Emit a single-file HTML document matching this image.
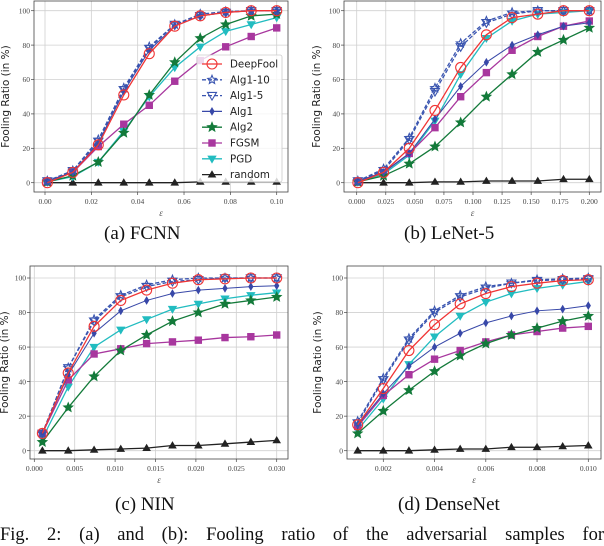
<!DOCTYPE html>
<html><head><meta charset="utf-8"><style>
body{margin:0;background:#fff;width:604px;height:544px;overflow:hidden;position:relative}
svg{position:absolute;left:0;top:0}
.cap{position:absolute;font-family:"Liberation Serif",serif;font-size:19px;color:#111;white-space:nowrap}
</style></head><body>
<svg id="fig" width="604" height="544"></svg>
<div class="cap" style="left:104px;top:223px">(a) FCNN</div>
<div class="cap" style="left:404px;top:223px">(b) LeNet-5</div>
<div class="cap" style="left:115px;top:494px">(c) NIN</div>
<div class="cap" style="left:398px;top:494px">(d) DenseNet</div>
<div class="cap" style="left:0;top:525px;width:604px;text-align:justify;text-align-last:justify;font-size:18.5px">Fig. 2: (a) and (b): Fooling ratio of the adversarial samples for</div>
<script>
const seriesNames=["DeepFool","Alg1-10","Alg1-5","Alg1","Alg2","FGSM","PGD","random"];
const xA=[0.001,0.012,0.023,0.034,0.045,0.056,0.067,0.078,0.089,0.1];
const xB=[0.001,0.0231,0.0452,0.0673,0.0894,0.1115,0.1336,0.1557,0.1778,0.2];
const xC=[0.001,0.0042,0.0074,0.0107,0.0139,0.0171,0.0203,0.0236,0.0268,0.03];
const xD=[0.001,0.002,0.003,0.004,0.005,0.006,0.007,0.008,0.009,0.01];
const dataA=[[0,6,22,51,75,91,97,99,100,100],[1,7,25,55,79,92,98,99.5,100,100],[1,7,24,54,78,92,97,99,100,100],[1,6,23,53,77,91,97,99,100,100],[0.5,4,12,29,51,70,84,92,97,98],[1,6,21,34,45,59,71,79,85,90],[0.5,3.5,12,30,50,67,79,88,92,96],[0,0,0,0,0,0,0.5,0.5,0.5,0.5]];
const dataB=[[0,6,20,42,67,86,96,98,100,100],[1,8,26,55,81,94,99,100,100,100],[1,7,25,53,79,93,98,100,100,100],[1,6,17,37,56,70,80,86,91,93],[0.5,4,11,21,35,50,63,76,83,90],[1,6,17,32,50,64,77,85,91,94],[0.5,5,16,36,63,84,94,98,99,100],[0,0,0,0.5,0.5,1,1,1,2,2]];
const dataC=[[10,45,72,87,93,97,99,99.5,100,100],[10,48,76,90,96,99,100,100,100,100],[10,48,75,89,95,98,99,100,100,100],[10,44,68,81,87,91,93,94,95,95.5],[5,25,43,58,67,75,80,85,87,89],[10,41,56,59,62,63,64,65.5,66,67],[7,37,60,70,76,82,85,88,90,91.5],[0,0,0.5,1,1.5,3,3,4,5,6]];
const dataD=[[15,36,58,73,85,91,95,97,98.5,99],[17,42,65,81,90,95,97,99,99.5,100],[16,41,64,80,89,94,97,98.5,99,99.5],[15,33,49,60,68,74,78,81,82,84],[10,23,35,46,55,62,67,71,75,78],[14,32,44,53,58,63,67,69,71,72],[12,30,50,66,78,86,91,94,96,98],[0,0,0,0.5,1,1,2,2,2.5,3]];
const ticksA=[0,0.02,0.04,0.06,0.08,0.10], labA=["0.00","0.02","0.04","0.06","0.08","0.10"];
const ticksB=[0,0.025,0.05,0.075,0.1,0.125,0.15,0.175,0.2], labB=["0.000","0.025","0.050","0.075","0.100","0.125","0.150","0.175","0.200"];
const ticksC=[0,0.005,0.01,0.015,0.02,0.025,0.03], labC=["0.000","0.005","0.010","0.015","0.020","0.025","0.030"];
const ticksD=[0.002,0.004,0.006,0.008,0.010], labD=["0.002","0.004","0.006","0.008","0.010"];
const yTicks=[0,20,40,60,80,100];
const styles=[{c:"#f03535",m:"circle",fill:"none",r:5,dash:""},{c:"#3a55b0",m:"star",fill:"none",r:4.5,dash:"4,2"},{c:"#3a55b0",m:"tri-down",fill:"none",r:4.5,dash:"4,2"},{c:"#3848a8",m:"diamond",fill:"#3848a8",r:3.6,dash:""},{c:"#137a3a",m:"star",fill:"#137a3a",r:5,dash:""},{c:"#a8379e",m:"square",fill:"#a8379e",r:3.3,dash:""},{c:"#22bcc0",m:"tri-down",fill:"#22bcc0",r:4,dash:""},{c:"#222",m:"tri-up",fill:"#222",r:3.6,dash:""}];
const NS="http://www.w3.org/2000/svg";
const svg=document.getElementById('fig');
function mk(t,a,p){const e=document.createElementNS(NS,t);for(const k in a)e.setAttribute(k,a[k]);(p||svg).appendChild(e);return e;}
function marker(g,s,x,y){let e;const r=s.r;
 if(s.m==="circle")e=mk('circle',{cx:x,cy:y,r:r},g);
 else if(s.m==="square")e=mk('rect',{x:x-r,y:y-r,width:2*r,height:2*r},g);
 else{let pts=[];
  if(s.m==="star"){for(let i=0;i<10;i++){const a=-Math.PI/2+i*Math.PI/5,rr=i%2?r*0.45:r;pts.push([x+rr*Math.cos(a),y+rr*Math.sin(a)]);}}
  else if(s.m==="diamond")pts=[[x,y-r],[x+r*0.6,y],[x,y+r],[x-r*0.6,y]];
  else if(s.m==="tri-down")pts=[[x-r,y-r*0.7],[x+r,y-r*0.7],[x,y+r]];
  else pts=[[x-r,y+r*0.7],[x+r,y+r*0.7],[x,y-r]];
  e=mk('polygon',{points:pts.map(p=>p.join(',')).join(' ')},g);}
 e.setAttribute('fill',s.fill);e.setAttribute('stroke',s.c);e.setAttribute('stroke-width',s.fill==="none"?1.1:0.8);
 
 }
function panel(id,box,xr,xd,data,ticks,labs,ylx,legend){
 const [L,T,R,B,x0p,x1p,y100,y0]=box;
 const sx=v=>x0p+(v-xr[0])/(xr[1]-xr[0])*(x1p-x0p), sy=v=>y0+(y100-y0)*v/100;
 const g=mk('g',{});
 
 
 ticks.forEach((t,i)=>{const x=sx(t);mk('line',{x1:x,x2:x,y1:T,y2:B,stroke:"#d0d0d0","stroke-width":0.8},g);
  mk('line',{x1:x,x2:x,y1:B,y2:B+3,stroke:"#444","stroke-width":0.7},g);
  const tx=mk('text',{x:x,y:B+12,"font-size":"7.5","text-anchor":"middle",fill:"#444","font-family":"Liberation Serif,serif"},g);tx.textContent=labs[i];
  });
 yTicks.forEach(t=>{const y=sy(t);mk('line',{x1:L,x2:R,y1:y,y2:y,stroke:"#d0d0d0","stroke-width":0.8},g);
  mk('line',{x1:L-3,x2:L,y1:y,y2:y,stroke:"#444","stroke-width":0.7},g);
  const tx=mk('text',{x:L-4,y:y+2.7,"font-size":"7.5","text-anchor":"end",fill:"#444","font-family":"Liberation Serif,serif"},g);tx.textContent=t;
  });
 mk('rect',{x:L,y:T,width:R-L,height:B-T,fill:"none",stroke:"#444","stroke-width":0.8},g);
 const yl=mk('text',{x:0,y:0,transform:`translate(${ylx},${(T+B)/2}) rotate(-90)`,"font-size":"10.5","text-anchor":"middle",fill:"#222","font-family":"DejaVu Sans,sans-serif"},g);yl.textContent="Fooling Ratio (in %)";
 
 const xl=mk('text',{x:(L+R)/2,y:B+24,"font-size":"9","font-style":"italic","text-anchor":"middle",fill:"#555","font-family":"Liberation Serif,serif"},g);xl.textContent="ε";
 
 for(let k=data.length-1;k>=0;k--){const s=styles[k];const sg=mk('g',{},g);
  
  
  mk('polyline',{points:data[k].map((v,i)=>sx(xd[i])+','+sy(v)).join(' '),fill:"none",stroke:s.c,"stroke-width":k==3?1:1.3,"stroke-dasharray":s.dash},sg);
  data[k].forEach((v,i)=>marker(sg,s,sx(xd[i]),sy(v)));}
 if(legend){const [lx,ly]=legend;const lg=mk('g',{},g);
  
  mk('rect',{x:lx,y:ly,width:85,height:127,fill:"rgba(255,255,255,0.8)",stroke:"#ccc","stroke-width":0.8,rx:2},lg);
  seriesNames.forEach((n,k)=>{const y=ly+9+k*15.8,s=styles[k];
   mk('line',{x1:lx+5,x2:lx+25,y1:y,y2:y,stroke:s.c,"stroke-width":1.3,"stroke-dasharray":s.dash},lg);
   marker(lg,s,lx+15,y);
   const t=mk('text',{x:lx+33,y:y+3.5,"font-size":"10.3","fill":"#222","font-family":"DejaVu Sans,sans-serif"},lg);t.textContent=n;
   });}
}
panel('a',[34,1,288,192,45,276.7,10.7,182.7],[0,0.1],xA,dataA,ticksA,labA,9,[197,55]);
panel('b',[344,1,601,192,356.7,589.3,10.7,182.7],[0,0.2],xB,dataB,ticksB,labB,320,null);
panel('c',[30,266,288,459,34.3,276.7,278,450.7],[0,0.03],xC,dataC,ticksC,labC,8,null);
panel('d',[347,266,601,459,383.3,588.3,278,450.7],[0.002,0.01],xD,dataD,ticksD,labD,321,null);
</script>
</body></html>
